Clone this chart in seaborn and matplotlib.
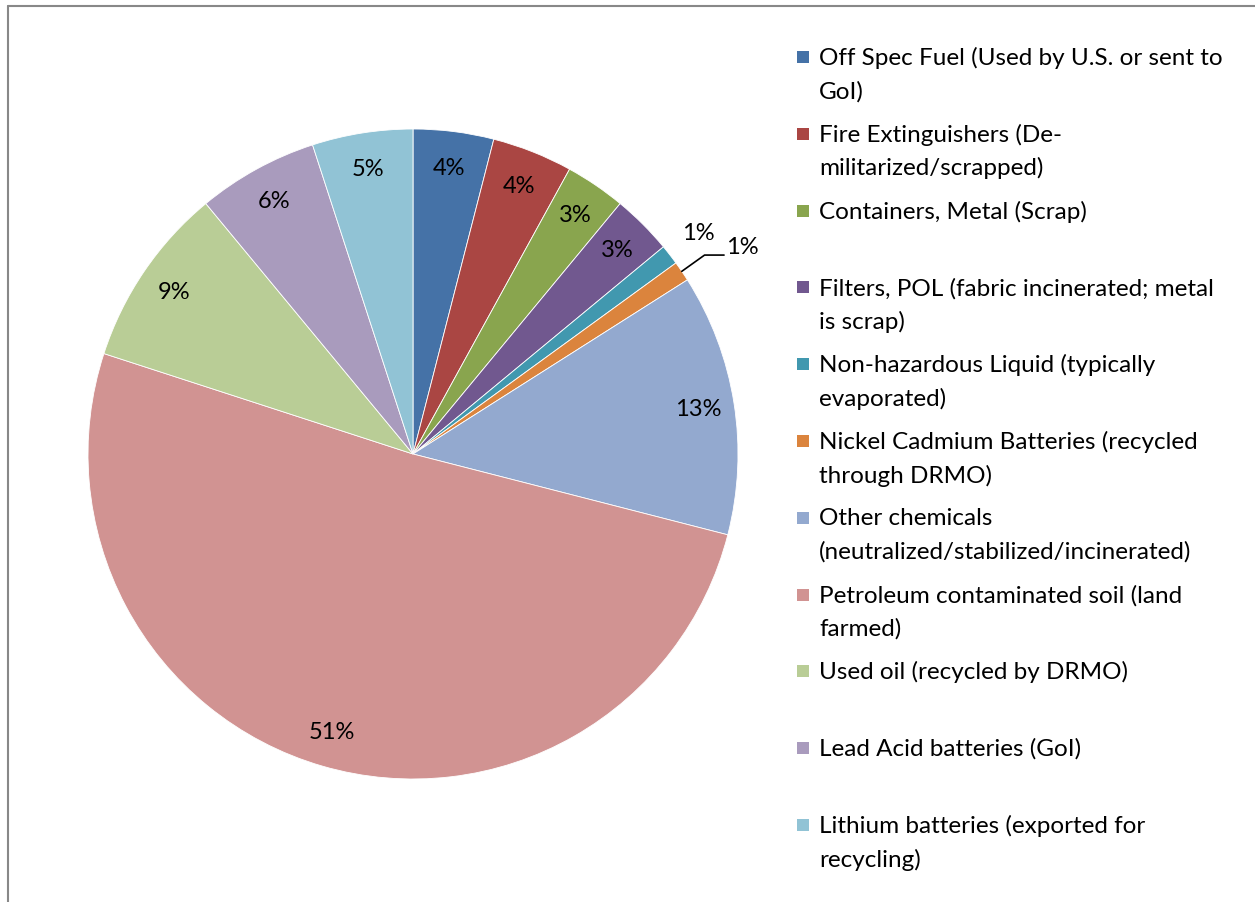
import matplotlib
matplotlib.use("Agg")
import matplotlib.pyplot as plt
import seaborn as sns
import numpy as np
from matplotlib.lines import Line2D
from matplotlib.patches import Rectangle

categories = [
    "Off Spec Fuel (Used by U.S. or sent to\nGoI)",
    "Fire Extinguishers (De-\nmilitarized/scrapped)",
    "Containers, Metal (Scrap)",
    "Filters, POL (fabric incinerated; metal\nis scrap)",
    "Non-hazardous Liquid (typically\nevaporated)",
    "Nickel Cadmium Batteries (recycled\nthrough DRMO)",
    "Other chemicals\n(neutralized/stabilized/incinerated)",
    "Petroleum contaminated soil (land\nfarmed)",
    "Used oil (recycled by DRMO)",
    "Lead Acid batteries (GoI)",
    "Lithium batteries (exported for\nrecycling)",
]
values = [4, 4, 3, 3, 1, 1, 13, 51, 9, 6, 5]
colors = ["#4572A7", "#AA4643", "#89A54E", "#71588F", "#4198AF", "#DB843D",
          "#93A9CF", "#D19392", "#B9CD96", "#A99BBD", "#91C3D5"]

sns.set_theme(style="white")
plt.rcParams['font.family'] = ['Lato', 'DejaVu Sans']
FS = 17
LFS = 17.5

W, H = 1255, 903
fig = plt.figure(figsize=(W / 100, H / 100), dpi=100)
fig.patch.set_facecolor("white")

cx, cy, R = 413, 455, 325
ax = fig.add_axes([(cx - R) / W, (H - cy - R) / H, 2 * R / W, 2 * R / H])
palette = sns.color_palette(colors)

wedges, texts, autotexts = ax.pie(
    values, colors=palette, startangle=90, counterclock=False,
    autopct="%1.0f%%", pctdistance=0.89,
    wedgeprops=dict(edgecolor="white", linewidth=0.6),
    textprops=dict(fontsize=FS, color="black"))
ax.set_xlim(-1, 1)
ax.set_ylim(-1, 1)
ax.set_aspect("equal")
ax.axis("off")

# reposition the two small 1% labels outside the pie
for idx, t in enumerate(autotexts):
    w = wedges[idx]
    mid = np.deg2rad((w.theta1 + w.theta2) / 2)
    if values[idx] <= 1:
        if idx == 4:
            t.set_position((1.11 * np.cos(mid), 1.11 * np.sin(mid)))
        else:
            x0, y0 = np.cos(mid), np.sin(mid)
            tx, ty = x0 + 0.10, y0 + 0.05
            ax.plot([x0 * 1.0, x0 + 0.07, tx + 0.03], [y0, ty, ty],
                    color="black", lw=1.2, clip_on=False)
            t.set_position((tx + 0.035, ty + 0.025))
            t.set_ha("left")

# legend drawn manually
lx_marker = 797
lx_text = 819
y0 = 58
step = 76.8
line_gap = 33.5
for i, (lab, col) in enumerate(zip(categories, palette)):
    yy = y0 + i * step
    fig.patches.append(Rectangle(((lx_marker) / W, 1 - (yy + 6) / H), 12 / W, 12 / H,
                                 transform=fig.transFigure, facecolor=col,
                                 edgecolor="none"))
    for j, line in enumerate(lab.split("\n")):
        fig.text(lx_text / W, 1 - (yy + j * line_gap) / H, line,
                 fontsize=LFS, va="center", ha="left", color="black")

# frame (top and left edges)
fig.add_artist(Line2D([8 / W, 8 / W], [0, 1 - 7 / H], color="#888888", lw=1.5,
                      transform=fig.transFigure))
fig.add_artist(Line2D([8 / W, 1], [1 - 7 / H, 1 - 7 / H], color="#888888", lw=1.5,
                      transform=fig.transFigure))

fig.savefig("out.png", dpi=100, facecolor="white")
